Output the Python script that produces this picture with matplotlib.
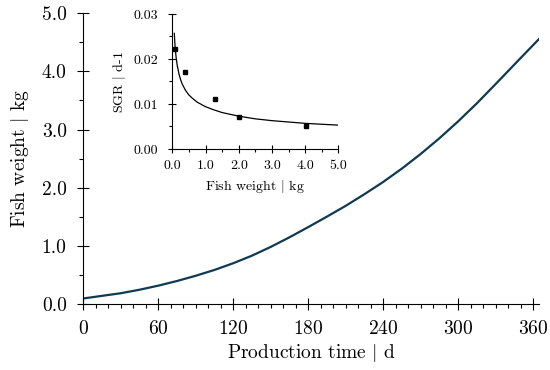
import matplotlib
matplotlib.use("Agg")
import matplotlib.pyplot as plt
from matplotlib.ticker import MultipleLocator, FormatStrFormatter

plt.rcParams['font.family'] = ['cmr10', 'DejaVu Serif']
plt.rcParams['mathtext.fontset'] = 'cm'
plt.rcParams['axes.formatter.use_mathtext'] = True

### growth curve
days = [0, 15, 30, 45, 60, 75, 90, 105, 120, 135, 150, 165, 180, 195, 210,
        225, 240, 255, 270, 285, 300, 315, 330, 347, 365]
weight = [0.10, 0.145, 0.19, 0.25, 0.32, 0.40, 0.49, 0.59, 0.705, 0.835, 0.985, 1.15, 1.325,
          1.505, 1.69, 1.89, 2.10, 2.33, 2.58, 2.85, 3.14, 3.45, 3.78, 4.16, 4.56]

### inset: SGR vs fish weight
fit_w = [0.06, 0.08, 0.1, 0.12, 0.15, 0.2, 0.25, 0.3, 0.4, 0.5, 0.6, 0.75, 1.0, 1.25, 1.5,
         2.0, 2.5, 3.0, 3.5, 4.0, 4.5, 5.0]
fit_sgr = [0.0257, 0.0231, 0.0214, 0.0200, 0.0185, 0.0167, 0.0154, 0.0144, 0.0130, 0.0120,
           0.0113, 0.0104, 0.0094, 0.0087, 0.0081, 0.0073, 0.0067, 0.0063, 0.0060, 0.0057,
           0.0055, 0.0053]
obs_w = [0.07, 0.37, 1.29, 2.0, 4.03]
obs_sgr = [0.0222, 0.0172, 0.0111, 0.0071, 0.0050]

fig = plt.figure(figsize=(5.5, 3.7), dpi=100)

ax = fig.add_axes([0.1515, 0.1776, 0.829, 0.787])
ax.plot(days, weight, color='#0f3a52', lw=1.6)
ax.set_xlim(0, 365)
ax.set_ylim(0, 5)
ax.spines['top'].set_visible(False)
ax.spines['right'].set_visible(False)
ax.xaxis.set_major_locator(MultipleLocator(60))
ax.xaxis.set_minor_locator(MultipleLocator(10))
ax.yaxis.set_major_locator(MultipleLocator(1))
ax.yaxis.set_minor_locator(MultipleLocator(0.5))
ax.yaxis.set_major_formatter(FormatStrFormatter('%.1f'))
ax.tick_params(which='major', direction='inout', length=8, width=0.8, labelsize=14)
ax.tick_params(which='minor', direction='out', length=3, width=0.8)
ax.tick_params(axis='x', which='major', pad=7)
ax.tick_params(axis='y', which='major', pad=8)
ax.set_xlabel('Production time $|$ d', fontsize=14, labelpad=3)
ax.set_ylabel('Fish weight $|$ kg', fontsize=14, labelpad=8)

ins = fig.add_axes([0.3133, 0.5973, 0.3018, 0.3649])
ins.plot(fit_w, fit_sgr, color='black', lw=0.9)
ins.plot(obs_w, obs_sgr, 's', color='black', ms=3.5)
ins.set_xlim(0, 5)
ins.set_ylim(0, 0.03)
ins.patch.set_alpha(0)
ins.spines['top'].set_visible(False)
ins.spines['right'].set_visible(False)
ins.xaxis.set_major_locator(MultipleLocator(1))
ins.xaxis.set_minor_locator(MultipleLocator(0.5))
ins.yaxis.set_major_locator(MultipleLocator(0.01))
ins.yaxis.set_minor_locator(MultipleLocator(0.005))
ins.xaxis.set_major_formatter(FormatStrFormatter('%.1f'))
ins.yaxis.set_major_formatter(FormatStrFormatter('%.2f'))
ins.tick_params(which='major', direction='inout', length=6, width=0.8, labelsize=10)
ins.tick_params(which='minor', direction='out', length=2.5, width=0.8)
ins.tick_params(axis='y', which='major', pad=7)
ins.tick_params(axis='x', which='major', pad=5)
ins.set_xlabel('Fish weight $|$ kg', fontsize=10, labelpad=4)
ins.set_ylabel('SGR $|$ d-1', fontsize=10, labelpad=4)

fig.savefig('out.png', dpi=100)
